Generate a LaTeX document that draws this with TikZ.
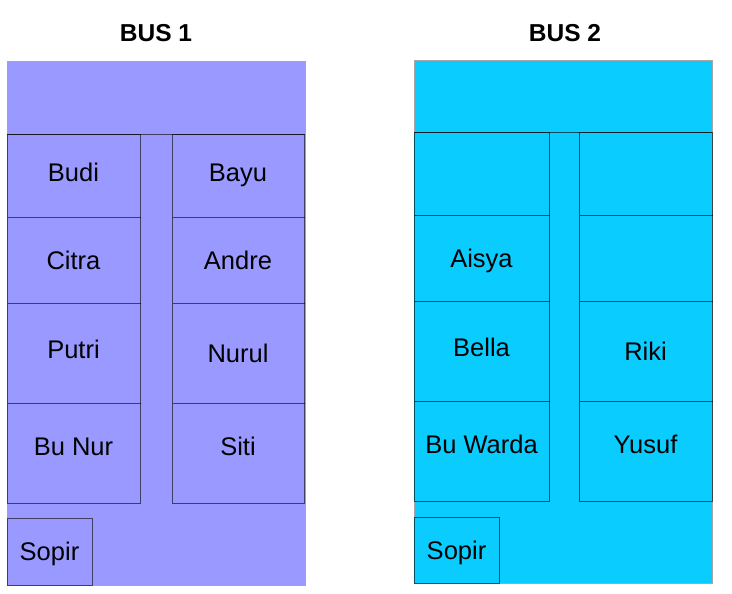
\documentclass[tikz,border=0pt]{standalone}
\usepackage{fontspec}
\setmainfont{Liberation Sans}
\usepackage{tikz}
\definecolor{busA}{RGB}{153,153,255}
\definecolor{busB}{RGB}{10,204,255}
\newcommand{\seatfont}{\fontsize{25.5bp}{30bp}\selectfont}
\newcommand{\titlefont}{\fontsize{24.5bp}{29bp}\selectfont\bfseries}
\begin{document}
\begin{tikzpicture}[x=1bp,y=-1bp,seat/.style={shape=rectangle,draw=black,draw opacity=0.6,line width=1bp,inner sep=0pt,outer sep=0pt,anchor=north west,font=\seatfont,text height=18bp,text depth=0pt},seatA/.style={seat,fill=busA},seatB/.style={seat,fill=busB},up/.style={text depth=7bp},upup/.style={text depth=13bp},body/.style={seat,draw=black!35,draw opacity=1},title/.style={font=\titlefont,inner sep=0pt,text height=17bp,text depth=0pt}]
\useasboundingbox (0,0) rectangle (732,594);
\def\colwA{133bp};
\def\colwB{132bp};
\def\colwC{135bp};
\def\colwD{133bp};
\def\rowhA{82bp};
\def\rowhB{86bp};
\def\rowhC{100bp};

% bus 1
\node[title] (T1) at (156,33) {BUS 1};
\node[body,fill=busA,minimum width=298bp,minimum height=523bp] (B1) at (7,62) {};

\node[seatA,up,minimum width=\colwA,minimum height=\rowhA] (Budi) at (7,135) {Budi};
\node[seatA,minimum width=\colwA,minimum height=\rowhB] (Citra) at (7,217) {Citra};
\node[seatA,up,minimum width=\colwA,minimum height=\rowhC] (Putri) at (7,303) {Putri};
\node[seatA,upup,minimum width=\colwA,minimum height=\rowhC] (BuNur) at (7,403) {Bu Nur};

\node[seatA,up,minimum width=\colwB,minimum height=\rowhA] (Bayu) at (172,135) {Bayu};
\node[seatA,minimum width=\colwB,minimum height=\rowhB] (Andre) at (172,217) {Andre};
\node[seatA,minimum width=\colwB,minimum height=\rowhC] (Nurul) at (172,303) {Nurul};
\node[seatA,upup,minimum width=\colwB,minimum height=\rowhC] (Siti) at (172,403) {Siti};

\draw[draw=black,draw opacity=0.6,line width=1bp] (B1.west |- Budi.north) -- (B1.east |- Budi.north);
\node[seatA,anchor=south west,minimum width=85bp,minimum height=67bp] (Sopir1) at (B1.south west) {Sopir};

% bus 2
\node[title] (T2) at (565,33) {BUS 2};
\node[body,fill=busB,minimum width=298bp,minimum height=522bp] (B2) at (414,61) {};

\node[seatB,minimum width=\colwC,minimum height=\rowhA] (L1) at (414,133) {};
\node[seatB,minimum width=\colwC,minimum height=\rowhB] (Aisya) at (414,215) {Aisya};
\node[seatB,up,minimum width=\colwC,minimum height=\rowhC] (Bella) at (414,301) {Bella};
\node[seatB,upup,minimum width=\colwC,minimum height=\rowhC] (BuWarda) at (414,401) {Bu Warda};

\node[seatB,minimum width=\colwD,minimum height=\rowhA] (R1) at (579,133) {};
\node[seatB,minimum width=\colwD,minimum height=\rowhB] (R2) at (579,215) {};
\node[seatB,minimum width=\colwD,minimum height=\rowhC] (Riki) at (579,301) {Riki};
\node[seatB,upup,minimum width=\colwD,minimum height=\rowhC] (Yusuf) at (579,401) {Yusuf};

\draw[draw=black,draw opacity=0.6,line width=1bp] (B2.west |- L1.north) -- (B2.east |- L1.north);
\node[seatB,anchor=south west,minimum width=85bp,minimum height=66bp] (Sopir2) at (B2.south west) {Sopir};
\end{tikzpicture}
\end{document}
